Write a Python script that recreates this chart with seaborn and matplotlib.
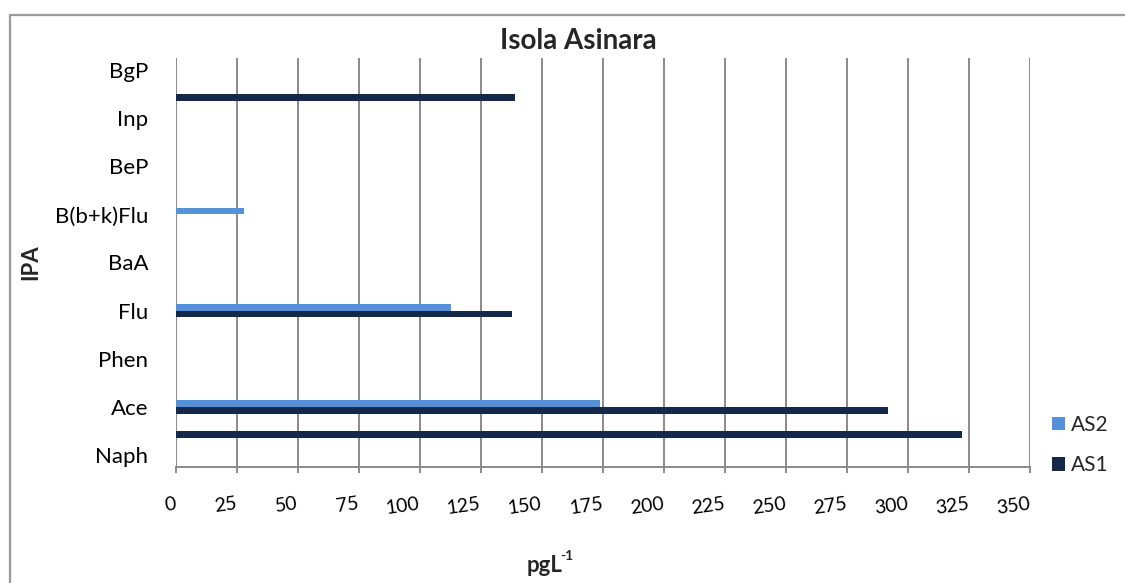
import matplotlib
matplotlib.use("Agg")
import matplotlib.pyplot as plt
from matplotlib.lines import Line2D
from matplotlib.patches import Patch
import pandas as pd
import seaborn as sns

# PAH compounds, bottom to top; only every other name is shown on the axis
categories = ["Naph", "Acy", "Ace", "Fl", "Phen", "Ant", "Flu", "Pyr", "BaA",
              "Chr", "B(b+k)Flu", "BaP", "BeP", "Per", "Inp", "DBA", "BgP"]
as1_values = [0, 322, 292, 0, 0, 0, 138, 0, 0, 0, 0, 0, 0, 0, 0, 139, 0]
as2_values = [0, 0, 174, 0, 0, 0, 113, 0, 0, 0, 28, 0, 0, 0, 0, 0, 0]
series_names = ["AS2", "AS1"]
x_ticks = list(range(0, 351, 25))
title = "Isola Asinara"

df = pd.DataFrame({
    "IPA": categories * 2,
    "value": as2_values + as1_values,
    "series": ["AS2"] * len(categories) + ["AS1"] * len(categories),
})

sns.set_theme(style="white")
plt.rcParams["font.family"] = ["Lato", "DejaVu Sans"]

col_as2 = "#5590D8"
col_as1 = "#16284A"
grid_col = "#8A8A8A"

fig = plt.figure(figsize=(11.25, 5.83), dpi=100)
W, H = 1125, 583
ax = fig.add_axes([175.5 / W, 1 - 467 / H, (1030 - 175.5) / W, (467 - 58) / H])

order = categories[::-1]  # top of the axis first
sns.barplot(data=df, x="value", y="IPA", hue="series", order=order,
            hue_order=series_names, palette=[col_as2, col_as1],
            orient="h", width=0.56, dodge=True, ax=ax, legend=False,
            saturation=1, linewidth=0)

ax.set_xlim(0, 350)
ax.set_ylim(len(categories) - 0.5, -0.5)
ax.set_xticks(x_ticks)
ax.set_xticklabels([str(t) for t in x_ticks])
labels = [c if (len(categories) - 1 - i) % 2 == 0 else "" for i, c in enumerate(order)]
ax.set_yticks(range(len(order)))
ax.set_yticklabels(labels)

# vertical gridlines
ax.xaxis.grid(True, color=grid_col, linewidth=1.4)
ax.yaxis.grid(False)
ax.set_axisbelow(True)
for side in ["top", "right", "left"]:
    ax.spines[side].set_visible(False)
ax.spines["bottom"].set_color(grid_col)
ax.spines["bottom"].set_linewidth(1.4)

ax.tick_params(axis="x", direction="out", length=4.3, width=1.4, color=grid_col,
               pad=22, labelsize=14, labelcolor="black", bottom=True)
ax.tick_params(axis="y", length=0, pad=19.5, labelsize=16, labelcolor="black")
plt.setp(ax.get_xticklabels(), rotation=8, ha="right", va="center",
         rotation_mode="anchor")
ax.set_xlabel("")
ax.set_ylabel("")

# titles and axis names
fig.text(578 / W, 1 - 41 / H, title, ha="center", va="center",
         fontsize=20, fontweight="bold")
fig.text(31 / W, 1 - 262 / H, "IPA", ha="center", va="center", rotation=90,
         fontsize=16, fontweight="bold")
fig.text(562 / W, 1 - 565 / H, "pgL", ha="right", va="center",
         fontsize=16, fontweight="bold")
fig.text(560.5 / W, 1 - 556 / H, "-1", ha="left", va="center",
         fontsize=10, fontweight="bold")

# legend
handles = [Patch(facecolor=col_as2, edgecolor="none"),
           Patch(facecolor=col_as1, edgecolor="none")]
fig.legend(handles, series_names, loc="center left",
           bbox_to_anchor=(1044 / W, 1 - 445 / H), frameon=False,
           fontsize=15, handlelength=0.6, handleheight=0.6,
           handletextpad=0.3, labelspacing=1.0, borderaxespad=0)

# outer chart frame (top and left edges)
frame_col = "#9A9A9A"
fig.add_artist(Line2D([10 / W, 1.0], [1 - 15 / H, 1 - 15 / H],
                      transform=fig.transFigure, color=frame_col, linewidth=1.6))
fig.add_artist(Line2D([10 / W, 10 / W], [1 - 15 / H, 0.0],
                      transform=fig.transFigure, color=frame_col, linewidth=1.6))

fig.savefig("out.png", dpi=100, facecolor="white")
